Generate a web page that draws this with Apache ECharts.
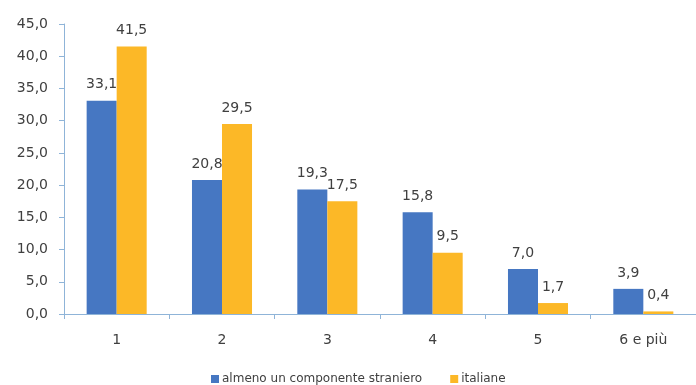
<!DOCTYPE html>
<html><head><meta charset="utf-8">
<script src="https://cdn.jsdelivr.net/npm/echarts@6/dist/echarts.min.js"></script>
<style>html,body{margin:0;padding:0;background:#fff}#c{width:696px;height:385px}</style>
</head><body><div id="c"></div>
<script>
const categories = ['1', '2', '3', '4', '5', '6 e più'];
const stranieri = [33.1, 20.8, 19.3, 15.8, 7.0, 3.9];
const italiane = [41.5, 29.5, 17.5, 9.5, 1.7, 0.4];
const seriesNames = ['almeno un componente straniero', 'italiane'];
const fmt = v => v.toFixed(1).replace('.', ',');
const FONT = 'DejaVu Sans';
const chart = echarts.init(document.getElementById('c'));
const lbl = {show: true, position: 'top', distance: 9, color: '#404040', fontSize: 14, fontFamily: FONT, formatter: p => fmt(p.value)};
chart.setOption({
  animation: false,
  grid: {left: 64, right: 0, top: 24, bottom: 71},
  legend: {top: 368, left: 206, itemWidth: 8, itemHeight: 8, itemGap: 28, icon: 'rect',
    textStyle: {color: '#404040', fontSize: 12, fontFamily: FONT, padding: [0, 0, 0, -2]}},
  xAxis: {type: 'category', data: categories,
    axisLine: {lineStyle: {color: '#8fb4d8'}},
    axisTick: {show: true, lineStyle: {color: '#8fb4d8'}, length: 5},
    axisLabel: {color: '#404040', fontSize: 14, fontFamily: FONT, margin: 19}},
  yAxis: {type: 'value', min: 0, max: 45, interval: 5,
    splitLine: {show: false},
    axisLine: {show: true, lineStyle: {color: '#8fb4d8'}},
    axisTick: {show: true, inside: false, lineStyle: {color: '#8fb4d8'}, length: 5},
    axisLabel: {color: '#404040', fontSize: 14, fontFamily: FONT, margin: 16, formatter: v => fmt(v)}},
  series: [
    {name: seriesNames[0], type: 'bar', data: stranieri, barGap: '0%', barCategoryGap: '43%', itemStyle: {color: '#4677c2'}, label: lbl},
    {name: seriesNames[1], type: 'bar', data: italiane, itemStyle: {color: '#fcb827'}, label: lbl}
  ]
});
</script></body></html>
